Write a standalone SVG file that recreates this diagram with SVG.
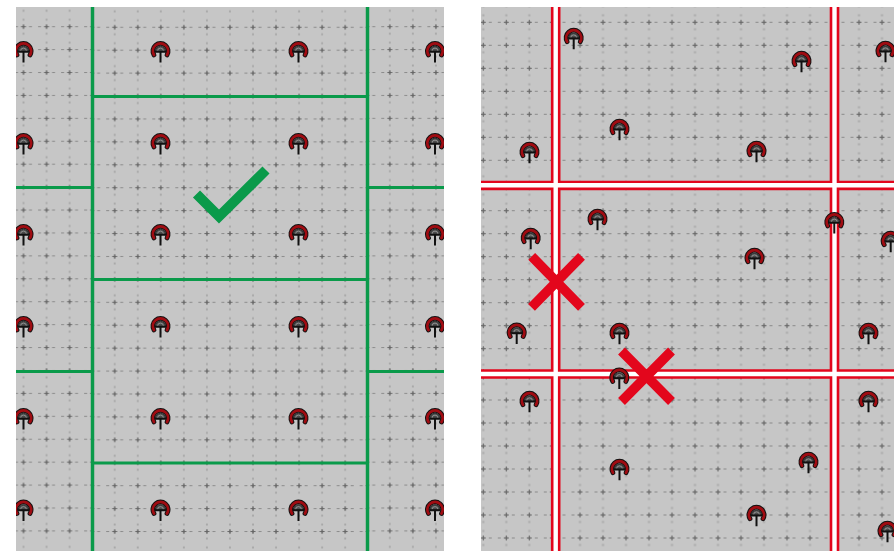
<svg xmlns="http://www.w3.org/2000/svg" width="894" height="551" viewBox="0 0 894 551">
<style>
.bg{fill:#c6c6c6}
.g{fill:none;stroke:#0a9a4a;stroke-width:3}
.gv{fill:none;stroke:#0a9a4a;stroke-width:4;stroke-opacity:.45}
.rw{fill:none;stroke:#e3061c;stroke-width:9.600}
.wc{fill:none;stroke:#fff;stroke-width:4.400}
.mg{fill:none;stroke:#0a9a4a;stroke-width:10}
.mr{fill:none;stroke:#e3061c;stroke-width:9.600}
.c{fill:#666}.h{fill:#8a8a8a}.d{fill:#a8a8a8}
</style>
<defs>
<g id="tile">
<rect class="c" x="9" y="11" width="5" height="1"/><rect class="c" x="11" y="9" width="1" height="5"/><rect class="c" x="10.500" y="10.500" width="2" height="2"/>
<rect class="h" x="3" y="11" width="3" height="1"/><rect class="h" x="17" y="11" width="3" height="1"/>
<rect class="d" x="10.500" y="3.500" width="2" height="2"/><rect class="d" x="10.500" y="17.500" width="2" height="2"/>
</g>
<pattern id="gl" width="23.050" height="22.920" patternUnits="userSpaceOnUse" patternTransform="translate(12 15.200)"><use href="#tile"/></pattern>
<pattern id="gc" width="23.050" height="22.920" patternUnits="userSpaceOnUse" patternTransform="translate(11 15.800)"><use href="#tile"/></pattern>
<pattern id="gk" width="23.050" height="22.920" patternUnits="userSpaceOnUse" patternTransform="translate(9.500 15.200)"><use href="#tile"/></pattern>
<pattern id="r1" width="23" height="23" patternUnits="userSpaceOnUse" patternTransform="translate(471.800 10.800)"><use href="#tile"/></pattern>
<pattern id="r2" width="23" height="23" patternUnits="userSpaceOnUse" patternTransform="translate(568.500 10.800)"><use href="#tile"/></pattern>
<pattern id="r3" width="23" height="23" patternUnits="userSpaceOnUse" patternTransform="translate(847.500 10.800)"><use href="#tile"/></pattern>
<pattern id="r4" width="23" height="23" patternUnits="userSpaceOnUse" patternTransform="translate(471.800 15.200)"><use href="#tile"/></pattern>
<pattern id="r5" width="23" height="23" patternUnits="userSpaceOnUse" patternTransform="translate(568.500 15.200)"><use href="#tile"/></pattern>
<pattern id="r6" width="23" height="23" patternUnits="userSpaceOnUse" patternTransform="translate(847.500 15.200)"><use href="#tile"/></pattern>
<pattern id="r7" width="23" height="23" patternUnits="userSpaceOnUse" patternTransform="translate(471.800 20.500)"><use href="#tile"/></pattern>
<pattern id="r8" width="23" height="23" patternUnits="userSpaceOnUse" patternTransform="translate(568.500 20.500)"><use href="#tile"/></pattern>
<pattern id="r9" width="23" height="23" patternUnits="userSpaceOnUse" patternTransform="translate(847.500 20.500)"><use href="#tile"/></pattern>
<clipPath id="cl"><rect x="16" y="7" width="428" height="544"/></clipPath>
<g id="n">
<path d="M-6.500 4.500A7.600 7.600 0 1 1 6.500 4.500" fill="none" stroke="#111" stroke-width="4.800" stroke-linecap="round"/>
<path d="M-6.500 4.500A7.600 7.600 0 1 1 6.500 4.500" fill="none" stroke="#a00c12" stroke-width="2.800" stroke-linecap="round"/>
<path d="M-5.300 1A5.300 5.300 0 0 1 5.300 1Z" fill="#4c4c4c" stroke="#111" stroke-width=".8"/>
<path d="M-2.900 .5A2.900 2.900 0 0 1 2.900 .5" fill="none" stroke="#aaa" stroke-width=".7"/>
<path d="M-5.500 1.200H5.500M0 1V12" fill="none" stroke="#111" stroke-width="2"/>
</g>
</defs>
<g id="left-panel">
<rect class="bg" x="16" y="7" width="428" height="544"/>
<rect x="16" y="7" width="76" height="544" fill="url(#gl)"/>
<rect x="92" y="8" width="275" height="543" fill="url(#gc)"/>
<rect x="367" y="7" width="77" height="544" fill="url(#gk)"/>
</g>
<g id="right-panel">
<rect class="bg" x="481" y="7" width="413" height="544"/>
<rect x="481" y="7" width="74" height="178" fill="url(#r1)"/>
<rect x="555" y="7" width="279" height="178" fill="url(#r2)"/>
<rect x="834" y="7" width="60" height="178" fill="url(#r3)"/>
<rect x="481" y="185" width="74" height="189" fill="url(#r4)"/>
<rect x="555" y="185" width="279" height="189" fill="url(#r5)"/>
<rect x="834" y="185" width="60" height="189" fill="url(#r6)"/>
<rect x="481" y="374" width="74" height="177" fill="url(#r7)"/>
<rect x="555" y="374" width="279" height="177" fill="url(#r8)"/>
<rect x="834" y="374" width="60" height="177" fill="url(#r9)"/>
</g>
<g id="connectors">
<path class="gv" d="M92.500 7V551M367.500 7V551"/>
<path class="g" d="M92.500 7V551M367.500 7V551M92 96.500H367M92 279.500H367M92 463H367M16 187.500H92M367 187.500H444M16 371.500H92M367 371.500H444"/>
<path class="rw" d="M555.700 7V551M834.500 7V551M481 185.500H894M481 374H894"/>
<path class="wc" d="M555.700 7V551M834.500 7V551M481 185.200H894M481 374H894"/>
</g>
<g id="nodes-left" clip-path="url(#cl)">
<g id="l1"><use href="#n" x="23.500" y="50.500"/></g><g id="l2"><use href="#n" x="160.500" y="50.500"/></g><g id="l3"><use href="#n" x="298.500" y="50.500"/></g><g id="l4"><use href="#n" x="435" y="50.500"/></g>
<g id="l5"><use href="#n" x="23.500" y="142.500"/></g><g id="l6"><use href="#n" x="160.500" y="142.500"/></g><g id="l7"><use href="#n" x="298.500" y="142.500"/></g><g id="l8"><use href="#n" x="435" y="142.500"/></g>
<g id="l9"><use href="#n" x="23.500" y="233.500"/></g><g id="l10"><use href="#n" x="160.500" y="233.500"/></g><g id="l11"><use href="#n" x="298.500" y="233.500"/></g><g id="l12"><use href="#n" x="435" y="233.500"/></g>
<g id="l13"><use href="#n" x="23.500" y="325.500"/></g><g id="l14"><use href="#n" x="160.500" y="325.500"/></g><g id="l15"><use href="#n" x="298.500" y="325.500"/></g><g id="l16"><use href="#n" x="435" y="325.500"/></g>
<g id="l17"><use href="#n" x="23.500" y="417.500"/></g><g id="l18"><use href="#n" x="160.500" y="417.500"/></g><g id="l19"><use href="#n" x="298.500" y="417.500"/></g><g id="l20"><use href="#n" x="435" y="417.500"/></g>
<g id="l21"><use href="#n" x="23.500" y="509"/></g><g id="l22"><use href="#n" x="160.500" y="509"/></g><g id="l23"><use href="#n" x="298.500" y="509"/></g><g id="l24"><use href="#n" x="435" y="509"/></g>
</g>
<g id="nodes-right">
<g id="r01"><use href="#n" x="573.700" y="37.300"/></g><g id="r02"><use href="#n" x="801.500" y="60.300"/></g><g id="r03"><use href="#n" x="885.500" y="50.300"/></g><g id="r04"><use href="#n" x="619.500" y="128.300"/></g><g id="r05"><use href="#n" x="529.500" y="151.300"/></g><g id="r06"><use href="#n" x="756.500" y="150.300"/></g><g id="r07"><use href="#n" x="597.500" y="218.300"/></g><g id="r08"><use href="#n" x="834.300" y="221.500"/></g><g id="r09"><use href="#n" x="530.700" y="237.300"/></g><g id="r10"><use href="#n" x="754.500" y="257.300"/></g><g id="r11"><use href="#n" x="890.700" y="240.300"/></g><g id="r12"><use href="#n" x="516.700" y="332"/></g><g id="r13"><use href="#n" x="619.500" y="332.300"/></g><g id="r14"><use href="#n" x="868.500" y="332.300"/></g><g id="r15"><use href="#n" x="619.300" y="377"/></g><g id="r16"><use href="#n" x="529.500" y="400.300"/></g><g id="r17"><use href="#n" x="868.500" y="400.300"/></g><g id="r18"><use href="#n" x="808.500" y="461.300"/></g><g id="r19"><use href="#n" x="619.500" y="468.300"/></g><g id="r20"><use href="#n" x="756.500" y="514.300"/></g><g id="r21"><use href="#n" x="887.500" y="530.300"/></g>
</g>
<g id="marks">
<path class="mg" d="M196.500 194L219 216.500L266 170"/>
<path class="mr" d="M531.700 256.300L581.500 307.300M581.500 256.300L531.500 307.300"/>
<path class="mr" d="M621.500 351L671.500 401.500M671.500 351L621.500 401.500"/>
</g>
</svg>
